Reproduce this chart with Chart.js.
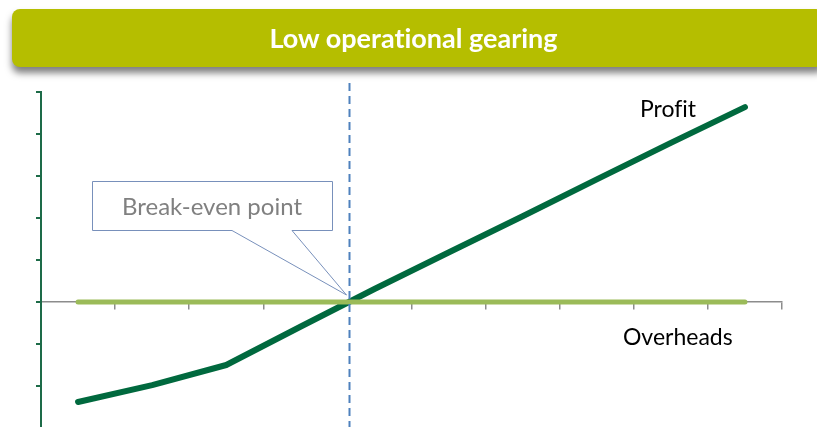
<!DOCTYPE html>
<html>
<head>
<meta charset="utf-8">
<script src="https://cdn.jsdelivr.net/npm/chart.js@4"></script>
<style>
  html, body { margin: 0; padding: 0; background: #fff; overflow: hidden; }
  #wrap { position: relative; width: 817px; height: 427px; overflow: hidden; }
  #banner {
    position: absolute; left: 12px; top: 9px; width: 812px; height: 58px;
    background: #b5be00; border-radius: 8px;
    box-shadow: 0 6px 7px rgba(0,0,0,0.5);
    color: #fff; font-family: Lato, sans-serif; font-weight: bold; font-size: 27px;
    font-variant-ligatures: none;
    line-height: 58px; text-align: center; padding-right: 9px; box-sizing: border-box;
    z-index: 2;
  }
  #c { position: absolute; left: 0; top: 0; font-variant-ligatures: none; }
</style>
</head>
<body>
<div id="wrap">
  <div id="banner">Low operational gearing</div>
  <canvas id="c" width="817" height="440"></canvas>
</div>
<script>
// Sample data
const periods = ['1', '2', '3', '4', '5', '6', '7', '8', '9', '10'];
const profit = [-2.38, -1.98, -1.5, -0.59, 0.31, 1.18, 2.04, 2.92, 3.79, 4.64];
const overheads = [0, 0, 0, 0, 0, 0, 0, 0, 0, 0];
const yTicks = [-3, -2, -1, 0, 1, 2, 3, 4, 5];

const FONT = 'Lato, sans-serif';

// dashed break-even line, callout and line labels
const annotations = {
  id: 'annotations',
  afterDatasetsDraw(chart) {
    const { ctx, scales: { x, y } } = chart;
    // find zero crossing of profit
    let idx = 0;
    for (let i = 0; i < profit.length - 1; i++) {
      if (profit[i] < 0 && profit[i + 1] >= 0) { idx = i + (0 - profit[i]) / (profit[i + 1] - profit[i]); break; }
    }
    const bx = Math.round(x.getPixelForValue(idx)) + 0.5;
    const by = y.getPixelForValue(0);

    ctx.save();
    ctx.strokeStyle = '#4f81bd';
    ctx.lineWidth = 2;
    ctx.setLineDash([8, 5]);
    ctx.beginPath();
    ctx.moveTo(bx, 83);
    ctx.lineTo(bx, chart.height);
    ctx.stroke();
    ctx.setLineDash([]);

    // callout
    const L = 92.5, R = 332.5, T = 181.5, B = 230.5;
    const tipX = bx - 3, tipY = by - 7;
    ctx.fillStyle = '#fff';
    ctx.strokeStyle = '#7890bb';
    ctx.lineWidth = 1;
    ctx.beginPath();
    ctx.moveTo(L, T);
    ctx.lineTo(R, T);
    ctx.lineTo(R, B);
    ctx.lineTo(292, B);
    ctx.lineTo(tipX, tipY);
    ctx.lineTo(232, B);
    ctx.lineTo(L, B);
    ctx.closePath();
    ctx.fill();
    ctx.stroke();

    ctx.fillStyle = '#808080';
    ctx.font = '24px ' + FONT;
    ctx.textAlign = 'center';
    ctx.textBaseline = 'middle';
    ctx.fillText('Break-even point', 212, 207);

    ctx.fillStyle = '#000';
    ctx.font = '23px ' + FONT;
    ctx.textAlign = 'left';
    ctx.fillText('Profit', 640, 110);
    ctx.fillText('Overheads', 623, 338);
    ctx.restore();
  }
};

new Chart(document.getElementById('c'), {
    type: 'line',
    data: {
        labels: periods,
        datasets: [{
            label: 'Overheads',
            data: overheads,
            borderColor: '#9bbb59',
            borderWidth: 5,
            borderCapStyle: 'round',
            pointRadius: 0,
            tension: 0
        }, {
            label: 'Profit',
            data: profit,
            borderColor: '#00693e',
            borderWidth: 6,
            borderCapStyle: 'round',
            borderJoinStyle: 'round',
            pointRadius: 0,
            tension: 0
        }]
    },
    options: {
        responsive: false,
        animation: false,
        events: [],
        layout: { padding: { top: 92, right: 35, bottom: 12, left: 0 } },
        plugins: {
            legend: { display: false },
            tooltip: { enabled: false }
        },
        scales: {
            x: {
                position: { y: 0 },
                offset: true,
                grid: { offset: true, drawOnChartArea: false, drawTicks: true, tickLength: 7, color: '#8c8c8c', lineWidth: 1.5 },
                border: { color: '#8c8c8c', width: 1.5 },
                ticks: { display: false }
            },
            y: {
                min: -3,
                max: 5,
                afterBuildTicks: s => { s.ticks = yTicks.map(v => ({ value: v })); },
                afterFit: s => { s.width = 41; },
                grid: { drawOnChartArea: false, drawTicks: true, tickLength: 5, color: '#1d6b48', lineWidth: 2 },
                border: { color: '#1d6b48', width: 2 },
                ticks: { display: false }
            }
        }
    },
    plugins: [annotations]
});
</script>
</body>
</html>
